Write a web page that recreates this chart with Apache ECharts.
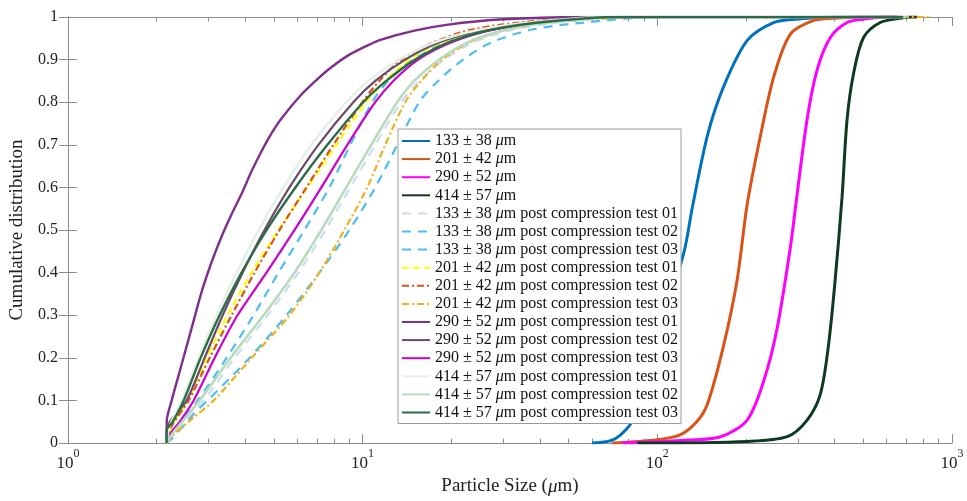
<!DOCTYPE html>
<html><head><meta charset="utf-8">
<script src="https://cdn.jsdelivr.net/npm/echarts@6/dist/echarts.min.js"></script>
</head>
<body style="margin:0;padding:0;background:#fff;">
<div id="chart" style="width:967px;height:501px;"></div>
<script>
// cumulative size distributions, [particle size (um), fraction]
const pre133 = [[60,0],[72,0.01],[83.4,0.06],[122.8,0.445],[131.5,0.553],[148,0.722],[168,0.837],[202,0.945],[248,0.987],[298,0.995],[400,1],[650,1]];
const pre201 = [[70.5,0],[100,0.008],[120,0.02],[136,0.05],[148,0.092],[168,0.23],[186.7,0.384],[201.8,0.56],[224,0.722],[248.5,0.86],[283,0.96],[339.5,0.992],[396,0.997],[500,1],[650,1]];
const pre290 = [[76.2,0],[120,0.006],[164,0.015],[201.8,0.054],[229.7,0.146],[255,0.269],[283,0.461],[294.3,0.553],[322.4,0.76],[348.6,0.876],[386.5,0.952],[440.6,0.987],[501,0.995],[600,1],[680,1]];
const pre414 = [[85.6,0],[201.8,0.004],[275.8,0.015],[322.4,0.054],[357.5,0.115],[381,0.23],[401.5,0.384],[423.4,0.576],[440.6,0.76],[463.6,0.868],[501,0.952],[571,0.987],[667,0.997],[720,1],[760,1]];

const t133a = [[2.164,0],[2.25,0.02],[2.887,0.1],[3.678,0.2],[4.756,0.3],[6.058,0.4],[7.477,0.5],[9.087,0.6],[11.04,0.7],[13.52,0.8],[15.56,0.85],[18.91,0.9],[23.71,0.94],[32.38,0.97],[50.1,0.99],[87.9,1],[700,1]];
const t133b = [[2.164,0],[2.25,0.01],[2.692,0.07],[2.979,0.1],[4.134,0.2],[5.516,0.3],[7.133,0.4],[9.016,0.5],[11.04,0.6],[13.11,0.7],[15.56,0.8],[18.04,0.85],[21.93,0.9],[27.28,0.94],[37.26,0.97],[52.9,0.985],[102.7,1],[700,1]];
const t133c = [[2.164,0],[2.25,0.02],[2.756,0.1],[3.455,0.2],[4.265,0.3],[5.183,0.4],[6.348,0.5],[7.713,0.6],[9.087,0.7],[10.78,0.8],[12.22,0.85],[14.85,0.9],[19.21,0.94],[27.28,0.97],[44.23,0.99],[78.2,1],[700,1]];
const t201a = [[2.164,0],[2.25,0.04],[2.549,0.1],[2.956,0.2],[3.482,0.3],[4.199,0.4],[5.183,0.5],[6.496,0.6],[8.145,0.7],[10.29,0.8],[11.94,0.85],[14.4,0.9],[18.48,0.94],[26.24,0.97],[42.9,0.99],[72.3,1],[700,1]];
const t201b = [[2.164,0],[2.25,0.04],[2.569,0.1],[3.026,0.2],[3.593,0.3],[4.298,0.4],[5.224,0.5],[6.446,0.6],[7.958,0.7],[9.977,0.8],[11.39,0.85],[13.52,0.9],[17.35,0.94],[23.35,0.97],[37.26,0.99],[64.33,1],[800,1]];
const t201c = [[2.164,0],[2.286,0.02],[2.672,0.06],[3.122,0.1],[4.199,0.2],[5.646,0.3],[7.133,0.4],[8.67,0.5],[10.37,0.6],[11.94,0.7],[13.95,0.8],[15.81,0.85],[18.62,0.9],[22.98,0.94],[30.66,0.97],[46.4,0.99],[102.7,1],[843,1]];
const t290a = [[2.164,0],[2.164,0.05],[2.25,0.1],[2.433,0.185],[2.63,0.27],[2.843,0.355],[3.074,0.425],[3.323,0.485],[3.593,0.537],[3.884,0.585],[4.199,0.638],[4.539,0.685],[4.907,0.727],[5.305,0.762],[6.2,0.818],[6.968,0.852],[7.834,0.882],[8.94,0.91],[10.45,0.934],[11.57,0.947],[15.0,0.968],[19.5,0.982],[29,0.994],[55,1],[680,1]];
const t290b = [[2.164,0],[2.164,0.03],[2.529,0.1],[2.91,0.2],[3.35,0.3],[3.915,0.4],[4.647,0.5],[5.646,0.6],[7.08,0.7],[9.301,0.8],[11.04,0.85],[13.95,0.9],[18.19,0.94],[25.63,0.97],[41.9,0.99],[75.2,1],[700,1]];
const t290c = [[2.164,0],[2.215,0.02],[2.395,0.05],[2.672,0.1],[3.147,0.2],[3.764,0.3],[4.72,0.4],[5.871,0.5],[7.245,0.6],[8.877,0.7],[11.04,0.8],[12.71,0.85],[15.44,0.9],[19.97,0.94],[27.71,0.97],[44.23,0.99],[75.2,1],[700,1]];
const t414a = [[2.164,0],[2.215,0.04],[2.433,0.1],[2.777,0.2],[3.195,0.3],[3.735,0.4],[4.434,0.5],[5.389,0.6],[6.702,0.7],[8.805,0.8],[10.45,0.85],[13.31,0.9],[17.49,0.94],[24.85,0.97],[40.29,0.99],[69.5,1],[700,1]];
const t414b = [[2.164,0],[2.25,0.02],[2.799,0.1],[3.565,0.2],[4.61,0.3],[5.871,0.4],[7.245,0.5],[8.805,0.6],[10.7,0.7],[13.11,0.8],[14.96,0.85],[18.19,0.9],[22.62,0.94],[30.66,0.97],[47.09,0.99],[81.3,1],[700,1]];
const t414c = [[2.164,0],[2.164,0.03],[2.268,0.05],[2.471,0.1],[2.821,0.2],[3.272,0.3],[3.884,0.4],[4.72,0.5],[5.917,0.6],[7.595,0.7],[10.05,0.8],[12.03,0.85],[15.08,0.9],[19.51,0.94],[27.28,0.97],[43.55,0.99],[75.2,1],[683,1]];

const names = [
  '133 ± 38 μm', '201 ± 42 μm', '290 ± 52 μm', '414 ± 57 μm',
  '133 ± 38 μm post compression test 01', '133 ± 38 μm post compression test 02', '133 ± 38 μm post compression test 03',
  '201 ± 42 μm post compression test 01', '201 ± 42 μm post compression test 02', '201 ± 42 μm post compression test 03',
  '290 ± 52 μm post compression test 01', '290 ± 52 μm post compression test 02', '290 ± 52 μm post compression test 03',
  '414 ± 57 μm post compression test 01', '414 ± 57 μm post compression test 02', '414 ± 57 μm post compression test 03'
];
const curves = [pre133, pre201, pre290, pre414, t133a, t133b, t133c, t201a, t201b, t201c, t290a, t290b, t290c, t414a, t414b, t414c];

const xMinorTicks = [2,3,4,5,6,7,8,9,20,30,40,50,60,70,80,90,200,300,400,500,600,700,800,900];

// colour, width, dash
const looks = [
  ['#0072BD', 3, 'solid'], ['#D95319', 3, 'solid'], ['#FF00FF', 3, 'solid'], ['#0F3A22', 3, 'solid'],
  ['#C9DDF2', 2.2, [9, 7]], ['#4DBEEE', 2.2, [9, 7]], ['#4DBEEE', 2.2, [9, 7]],
  ['#FFFF00', 2.2, [7, 4]], ['#D95319', 2.2, [7, 3, 2, 3]], ['#EDB120', 2.2, [7, 3, 2, 3]],
  ['#7E2F8E', 2.4, 'solid'], ['#6B4A6B', 2.2, 'solid'], ['#CC00CC', 2.2, 'solid'],
  ['#E4F0E4', 2.4, 'solid'], ['#B9DABB', 2.6, 'solid'], ['#2D6A47', 2.4, 'solid']
];

const serif = '"Liberation Serif", "Times New Roman", serif';
const axisGray = '#8c8c8c';

const series = curves.map((d, i) => ({
  name: names[i],
  type: 'line',
  data: d,
  showSymbol: false,
  symbol: 'none',
  smooth: 0.3,
  lineStyle: { color: looks[i][0], width: looks[i][1], type: looks[i][2] },
  itemStyle: { color: looks[i][0] },
  z: 2 + i * 0.01
}));

const tickLine = { color: axisGray, width: 1 };

const chart = echarts.init(document.getElementById('chart'));
chart.setOption({
  animation: false,
  backgroundColor: '#fff',
  grid: { left: 66, right: 15, top: 17, bottom: 52 },
  xAxis: [
    {
      type: 'log', logBase: 10, min: 1, max: 1000,
      axisLine: { show: true, lineStyle: tickLine },
      axisTick: { show: true, inside: true, length: 9, lineStyle: tickLine },
      splitLine: { show: false },
      axisLabel: {
        margin: 5, color: '#222',
        formatter: v => '{b|10}{s|' + Math.round(Math.log10(v)) + '}',
        rich: {
          b: { fontFamily: serif, fontSize: 17, lineHeight: 24, verticalAlign: 'bottom', color: '#222' },
          s: { fontFamily: serif, fontSize: 12, lineHeight: 12, verticalAlign: 'top', color: '#222' }
        }
      },
      name: 'Particle Size ({i|μ}m)', nameLocation: 'middle', nameGap: 30,
      nameTextStyle: {
        fontFamily: serif, fontSize: 19, color: '#222',
        rich: { i: { fontFamily: serif, fontSize: 19, fontStyle: 'italic', color: '#222' } }
      }
    },
    {
      type: 'value', min: 0, max: 3, position: 'bottom', gridIndex: 0,
      axisLine: { show: false }, splitLine: { show: false }, axisLabel: { show: false },
      axisTick: { show: true, inside: true, length: 4.5, lineStyle: tickLine, customValues: xMinorTicks.map(v => Math.log10(v)) }
    },
    {
      type: 'value', min: 0, max: 3, interval: 1, position: 'top', gridIndex: 0,
      axisLine: { show: true, lineStyle: tickLine }, splitLine: { show: false }, axisLabel: { show: false },
      axisTick: { show: true, inside: true, length: 9, lineStyle: tickLine }
    },
    {
      type: 'value', min: 0, max: 3, position: 'top', gridIndex: 0,
      axisLine: { show: false }, splitLine: { show: false }, axisLabel: { show: false },
      axisTick: { show: true, inside: true, length: 4.5, lineStyle: tickLine, customValues: xMinorTicks.map(v => Math.log10(v)) }
    }
  ],
  yAxis: [
    {
      type: 'value', min: 0, max: 1, interval: 0.1,
      axisLine: { show: true, lineStyle: tickLine },
      axisTick: { show: true, inside: true, length: 9, lineStyle: tickLine },
      splitLine: { show: false },
      axisLabel: { margin: 10, fontFamily: serif, fontSize: 16, color: '#222', formatter: v => String(+v.toFixed(1)) },
      name: 'Cumulative distribution', nameLocation: 'middle', nameGap: 36,
      nameTextStyle: { fontFamily: serif, fontSize: 19, color: '#222' }
    },
    {
      type: 'value', min: 0, max: 1, interval: 0.1, position: 'right',
      axisLine: { show: true, lineStyle: tickLine },
      axisTick: { show: true, inside: true, length: 9, lineStyle: tickLine },
      splitLine: { show: false }, axisLabel: { show: false }
    }
  ],
  legend: {
    data: names,
    orient: 'vertical',
    left: 398, top: 129,
    padding: [3, 3, 2, 3],
    backgroundColor: '#fff',
    borderColor: '#9a9a9a', borderWidth: 1, borderRadius: 0,
    itemWidth: 28, itemHeight: 12, itemGap: 0.1,
    itemStyle: { opacity: 0 },
    selectedMode: false,
    z: 10,
    formatter: n => n.replace('μ', '{i|μ}'),
    textStyle: {
      fontFamily: serif, fontSize: 16, color: '#111', lineHeight: 18,
      rich: { i: { fontFamily: serif, fontSize: 16, fontStyle: 'italic', color: '#111', lineHeight: 18 } }
    }
  },
  series: series
});
</script>
</body></html>
